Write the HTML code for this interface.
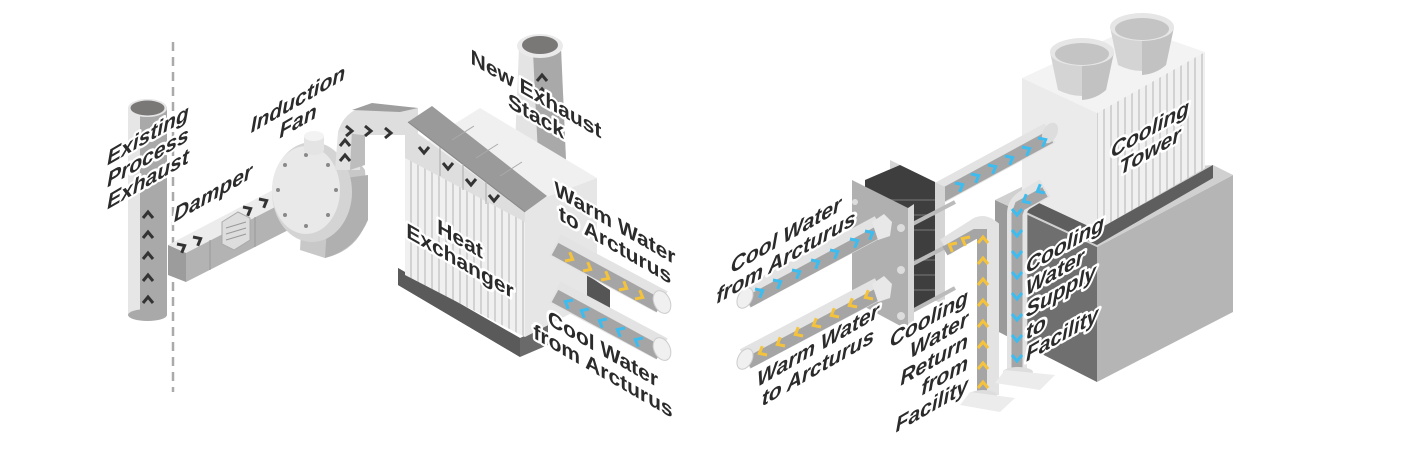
<!DOCTYPE html>
<html><head><meta charset="utf-8"><style>
html,body{margin:0;padding:0;background:#fff;}
svg{display:block}
.t{font-family:"Liberation Sans",sans-serif;font-weight:bold;font-style:italic;font-size:21px;fill:#2b2b2b;stroke:#fff;stroke-width:5px;paint-order:stroke;stroke-linejoin:round}
</style></head><body>
<svg width="1406" height="464" viewBox="0 0 1406 464" xmlns="http://www.w3.org/2000/svg">
<defs>
<pattern id="str" width="7" height="10" patternUnits="userSpaceOnUse"><rect width="7" height="10" fill="#f0f0f0"/><rect x="4" width="2" height="10" fill="#d2d2d2"/></pattern>
<g id="cd"><polyline points="-3,-5 3,0 -3,5" fill="none" stroke="#333" stroke-width="3"/></g>
<g id="cy"><polyline points="-3,-5 3,0 -3,5" fill="none" stroke="#f5c33b" stroke-width="3"/></g>
<g id="cb"><polyline points="-3,-5 3,0 -3,5" fill="none" stroke="#3dbcf0" stroke-width="3"/></g>
</defs>

<line x1="173" y1="42" x2="173" y2="392" stroke="#aaa" stroke-width="2.5" stroke-dasharray="9,6"/>

<rect x="128" y="107" width="39" height="208" fill="#e6e6e6"/>
<rect x="140" y="107" width="27" height="208" fill="#a9a9a9"/>
<ellipse cx="147.5" cy="315" rx="19.5" ry="6" fill="#a9a9a9"/>
<ellipse cx="147.5" cy="108" rx="19.5" ry="9" fill="#e6e6e6"/>
<ellipse cx="147.5" cy="108" rx="17" ry="7.5" fill="#7a7777"/>
<use href="#cd" transform="translate(148,300) rotate(-90)"/>
<use href="#cd" transform="translate(148,278) rotate(-90)"/>
<use href="#cd" transform="translate(148,256) rotate(-90)"/>
<use href="#cd" transform="translate(148,235) rotate(-90)"/>
<use href="#cd" transform="translate(148,215) rotate(-90)"/>

<polygon points="168,245 292,180 312,188 186,253" fill="#ececec"/>
<polygon points="168,245 186,253 186,282 168,275" fill="#9c9c9c"/>
<polygon points="186,253 312,188 312,218 186,282" fill="#b3b3b3"/>
<line x1="210" y1="240" x2="210" y2="270" stroke="#999"/>
<line x1="255" y1="217" x2="255" y2="247" stroke="#999"/>
<polygon points="222,222 238,212 250,218 250,240 234,250 222,244" fill="#ddd" stroke="#aaa"/>
<line x1="226" y1="228" x2="246" y2="222" stroke="#999"/><line x1="226" y1="234" x2="246" y2="228" stroke="#999"/><line x1="226" y1="240" x2="246" y2="234" stroke="#999"/>
<use href="#cd" transform="translate(182,247) rotate(-28)"/>
<use href="#cd" transform="translate(198,240) rotate(-28)"/>
<use href="#cd" transform="translate(248,210) rotate(-28)"/>
<use href="#cd" transform="translate(264,202) rotate(-28)"/>
<use href="#cd" transform="translate(284,188) rotate(-28)"/>

<path d="M305,160 L350,150 L365,170 L368,215 Q360,250 325,258 L300,250 Z" fill="#c8c8c8"/>
<path d="M330,180 L368,175 L368,220 Q355,250 325,258 Z" fill="#b0b0b0"/>
<ellipse cx="312" cy="192" rx="40" ry="50" fill="#d4d4d4"/>
<ellipse cx="306" cy="190" rx="34" ry="44" fill="#e9e9e9"/>
<g fill="#888"><circle cx="306" cy="155" r="2"/><circle cx="328" cy="165" r="2"/><circle cx="336" cy="190" r="2"/><circle cx="328" cy="215" r="2"/><circle cx="306" cy="226" r="2"/><circle cx="285" cy="215" r="2"/><circle cx="278" cy="190" r="2"/><circle cx="285" cy="165" r="2"/></g>
<rect x="304" y="136" width="20" height="14" fill="#e4e4e4"/><ellipse cx="314" cy="136" rx="10" ry="5" fill="#f3f3f3"/><ellipse cx="314" cy="150" rx="10" ry="5" fill="#e4e4e4"/>

<polygon points="335,170 360,170 362,130 338,132" fill="#e2e2e2"/>
<polygon points="350,170 365,165 365,128 352,130" fill="#bdbdbd"/>
<path d="M338,132 Q345,108 372,105 L418,108 L418,135 L362,135 Z" fill="#dedede"/>
<polygon points="352,110 372,103 418,108 400,112" fill="#9e9e9e"/>
<use href="#cd" transform="translate(345,158) rotate(-90)"/>
<use href="#cd" transform="translate(345,143) rotate(-90)"/>
<use href="#cd" transform="translate(349,131)"/>
<use href="#cd" transform="translate(368,131)"/>
<use href="#cd" transform="translate(388,133)"/>

<polygon points="519,48 561,48 566,160 515,145" fill="#e4e4e4"/>
<polygon points="533,52 561,48 566,160 538,155" fill="#a9a9a9"/>
<ellipse cx="540" cy="46" rx="23" ry="12" fill="#eaeaea"/>
<ellipse cx="540" cy="45" rx="18" ry="9" fill="#7a7777"/>
<use href="#cd" transform="translate(542,78) rotate(-90)"/>
<use href="#cd" transform="translate(542,92) rotate(-90)"/>

<polygon points="398,268 520,338 548,325 548,345 520,357 398,285" fill="#6a6a6a"/>
<polygon points="398,268 520,338 520,357 398,285" fill="#5a5a5a"/>
<polygon points="405,155 480,108 597,178 525,205" fill="#f0f0f0"/>
<polygon points="525,205 597,178 597,300 525,337" fill="#e6e6e6"/>
<polygon points="405,155 525,218 525,337 405,275" fill="url(#str)"/>
<polygon points="408,122 432,106 547,196 525,212" fill="#9a9a9a"/>
<polygon points="405,124 525,212 525,222 405,158" fill="#dedede"/>
<line x1="408" y1="122" x2="525" y2="212" stroke="#888"/>
<g stroke="#aaa"><line x1="440" y1="147" x2="440" y2="176"/><line x1="463" y1="164" x2="463" y2="190"/><line x1="486" y1="182" x2="486" y2="204"/><line x1="452" y1="140" x2="474" y2="126"/><line x1="476" y1="158" x2="498" y2="144"/><line x1="500" y1="176" x2="522" y2="162"/></g>
<use href="#cd" transform="translate(424,150) rotate(90)"/>
<use href="#cd" transform="translate(448,166) rotate(90)"/>
<use href="#cd" transform="translate(471,182) rotate(90)"/>
<use href="#cd" transform="translate(494,198) rotate(90)"/>
<polygon points="587,275 610,290 610,310 587,300" fill="#555"/>

<line x1="555" y1="245" x2="662" y2="302" stroke="#e3e3e3" stroke-width="24"/>
<line x1="555" y1="249" x2="660" y2="306" stroke="#a5a5a5" stroke-width="14"/>
<ellipse cx="662" cy="302" rx="8" ry="12" transform="rotate(-25 662 302)" fill="#f0f0f0" stroke="#ccc"/>
<line x1="555" y1="292" x2="662" y2="349" stroke="#e3e3e3" stroke-width="24"/>
<line x1="555" y1="296" x2="660" y2="353" stroke="#a5a5a5" stroke-width="14"/>
<ellipse cx="662" cy="349" rx="8" ry="12" transform="rotate(-25 662 349)" fill="#f0f0f0" stroke="#ccc"/>
<use href="#cy" transform="translate(570,258) rotate(28)"/><use href="#cy" transform="translate(588,268) rotate(28)"/><use href="#cy" transform="translate(606,277) rotate(28)"/><use href="#cy" transform="translate(624,287) rotate(28)"/><use href="#cy" transform="translate(640,296) rotate(28)"/>
<use href="#cb" transform="translate(568,303) rotate(208)"/><use href="#cb" transform="translate(584,312) rotate(208)"/><use href="#cb" transform="translate(602,322) rotate(208)"/><use href="#cb" transform="translate(620,331) rotate(208)"/><use href="#cb" transform="translate(638,341) rotate(208)"/>

<!-- right side -->
<polygon points="995,200 1028,215 1028,347 995,330" fill="#9a9a9a"/>
<polygon points="1028,215 1097,247 1097,382 1028,347" fill="#6f6f6f"/>
<polygon points="1097,247 1233,175 1233,312 1097,382" fill="#b5b5b5"/>
<polygon points="995,200 1040,178 1213,165 1233,175 1097,247 1028,215" fill="#d0d0d0"/>
<polygon points="1022,195 1097,230 1213,165 1213,178 1097,245 1022,210" fill="#5e5e5e"/>
<polygon points="1022,78 1133,27 1205,52 1097,113" fill="#f3f3f3"/>
<polygon points="1022,78 1097,113 1097,230 1022,195" fill="#ebebeb"/>
<polygon points="1097,113 1205,52 1205,168 1097,230" fill="url(#str)"/>
<path d="M1050,52 L1058,90 Q1082,102 1106,90 L1114,52 Z" fill="#d4d4d4"/>
<path d="M1082,52 L1082,100 Q1096,99 1106,90 L1114,52 Z" fill="#c2c2c2"/>
<ellipse cx="1082" cy="52" rx="32" ry="14" fill="#e6e6e6"/><ellipse cx="1082" cy="54" rx="27" ry="11" fill="#c4c4c4"/>
<path d="M1110,27 L1118,65 Q1142,77 1166,65 L1174,27 Z" fill="#d4d4d4"/>
<path d="M1142,27 L1142,75 Q1156,74 1166,65 L1174,27 Z" fill="#c2c2c2"/>
<ellipse cx="1142" cy="27" rx="32" ry="14" fill="#e6e6e6"/><ellipse cx="1142" cy="29" rx="27" ry="11" fill="#c4c4c4"/>

<line x1="930" y1="198" x2="1050" y2="133" stroke="#e3e3e3" stroke-width="22"/>
<line x1="930" y1="202" x2="1050" y2="137" stroke="#a5a5a5" stroke-width="13"/>
<ellipse cx="1050" cy="133" rx="7" ry="11" transform="rotate(28 1050 133)" fill="#ddd"/>
<use href="#cb" transform="translate(960,186) rotate(-28)"/><use href="#cb" transform="translate(976,177) rotate(-28)"/><use href="#cb" transform="translate(993,168) rotate(-28)"/><use href="#cb" transform="translate(1010,159) rotate(-28)"/><use href="#cb" transform="translate(1027,150) rotate(-28)"/><use href="#cb" transform="translate(1043,141) rotate(-28)"/>

<polygon points="890,160 945,187 945,305 890,280" fill="#d5d5d5"/>
<polygon points="865,180 900,165 935,182 935,300 900,320 865,300" fill="#3e3e3e"/>
<g stroke="#666" stroke-width="1.5"><line x1="870" y1="200" x2="935" y2="200"/><line x1="870" y1="215" x2="935" y2="215"/><line x1="870" y1="230" x2="935" y2="230"/><line x1="870" y1="260" x2="935" y2="260"/><line x1="870" y1="275" x2="935" y2="275"/><line x1="870" y1="290" x2="935" y2="290"/></g>
<g stroke="#bbb" stroke-width="4"><line x1="905" y1="228" x2="955" y2="202"/><line x1="905" y1="268" x2="955" y2="242"/><line x1="905" y1="315" x2="955" y2="288"/></g>
<polygon points="852,180 908,208 908,330 852,300" fill="#b0b0b0"/>
<polygon points="908,208 914,204 914,326 908,330" fill="#d8d8d8"/>
<g fill="#ddd"><circle cx="855" cy="202" r="3"/><circle cx="901" cy="228" r="4"/><circle cx="901" cy="270" r="4"/><circle cx="901" cy="316" r="4"/></g>

<path d="M945,247 L975,228 Q982,222 990,228 L990,395" fill="none" stroke="#e3e3e3" stroke-width="18"/>
<path d="M945,251 L975,234 L982,234 L982,395" fill="none" stroke="#a5a5a5" stroke-width="10"/>
<ellipse cx="983" cy="395" rx="14" ry="5" fill="#ddd"/>
<polygon points="970,392 1015,398 1000,412 960,405" fill="#ececec"/>
<use href="#cy" transform="translate(965,240) rotate(208)"/><use href="#cy" transform="translate(952,246) rotate(208)"/>
<g><use href="#cy" transform="translate(983,240) rotate(-90)"/><use href="#cy" transform="translate(983,261) rotate(-90)"/><use href="#cy" transform="translate(983,282) rotate(-90)"/><use href="#cy" transform="translate(983,303) rotate(-90)"/><use href="#cy" transform="translate(983,324) rotate(-90)"/><use href="#cy" transform="translate(983,345) rotate(-90)"/><use href="#cy" transform="translate(983,366) rotate(-90)"/><use href="#cy" transform="translate(983,385) rotate(-90)"/></g>

<path d="M1045,188 L1025,200 Q1017,205 1017,214 L1017,372" fill="none" stroke="#e3e3e3" stroke-width="20"/>
<path d="M1045,192 L1020,206 L1017,214 L1017,372" fill="none" stroke="#a5a5a5" stroke-width="11"/>
<ellipse cx="1018" cy="372" rx="15" ry="5" fill="#ddd"/>
<polygon points="1005,370 1055,375 1040,390 995,383" fill="#ececec"/>
<use href="#cb" transform="translate(1040,190) rotate(152)"/><use href="#cb" transform="translate(1026,200) rotate(152)"/>
<g><use href="#cb" transform="translate(1017,212) rotate(90)"/><use href="#cb" transform="translate(1017,233) rotate(90)"/><use href="#cb" transform="translate(1017,254) rotate(90)"/><use href="#cb" transform="translate(1017,275) rotate(90)"/><use href="#cb" transform="translate(1017,296) rotate(90)"/><use href="#cb" transform="translate(1017,317) rotate(90)"/><use href="#cb" transform="translate(1017,338) rotate(90)"/><use href="#cb" transform="translate(1017,358) rotate(90)"/></g>

<line x1="745" y1="298" x2="880" y2="226" stroke="#e3e3e3" stroke-width="22"/>
<line x1="748" y1="302" x2="880" y2="231" stroke="#a5a5a5" stroke-width="12"/>
<ellipse cx="745" cy="298" rx="7" ry="11" transform="rotate(28 745 298)" fill="#f0f0f0" stroke="#ccc"/>
<polygon points="872,222 884,214 892,222 890,236 878,240" fill="#e8e8e8"/>
<line x1="745" y1="359" x2="880" y2="288" stroke="#e3e3e3" stroke-width="22"/>
<line x1="748" y1="363" x2="880" y2="293" stroke="#a5a5a5" stroke-width="12"/>
<ellipse cx="745" cy="359" rx="7" ry="11" transform="rotate(28 745 359)" fill="#f0f0f0" stroke="#ccc"/>
<polygon points="872,284 884,276 892,284 890,298 878,302" fill="#e8e8e8"/>
<use href="#cb" transform="translate(760,292) rotate(-28)"/><use href="#cb" transform="translate(778,283) rotate(-28)"/><use href="#cb" transform="translate(797,273) rotate(-28)"/><use href="#cb" transform="translate(816,263) rotate(-28)"/><use href="#cb" transform="translate(835,253) rotate(-28)"/><use href="#cb" transform="translate(855,242) rotate(-28)"/><use href="#cb" transform="translate(870,234) rotate(-28)"/>
<use href="#cy" transform="translate(762,352) rotate(152)"/><use href="#cy" transform="translate(780,343) rotate(152)"/><use href="#cy" transform="translate(798,333) rotate(152)"/><use href="#cy" transform="translate(816,324) rotate(152)"/><use href="#cy" transform="translate(834,314) rotate(152)"/><use href="#cy" transform="translate(852,304) rotate(152)"/><use href="#cy" transform="translate(868,296) rotate(152)"/>

<g class="t" text-anchor="middle">
<text transform="translate(148,162) skewY(-30)"><tspan x="0" y="-20">Existing</tspan><tspan x="0" y="2">Process</tspan><tspan x="0" y="24">Exhaust</tspan></text>
<text transform="translate(213,200) skewY(-30)">Damper</text>
<text transform="translate(298,110) skewY(-30)"><tspan x="0" y="-4">Induction</tspan><tspan x="0" y="18">Fan</tspan></text>
<text transform="translate(536,105) skewY(30)" style="font-style:normal"><tspan x="0" y="-4">New Exhaust</tspan><tspan x="0" y="18">Stack</tspan></text>
<text transform="translate(460,250) skewY(30)" style="font-style:normal"><tspan x="0" y="-4">Heat</tspan><tspan x="0" y="18">Exchanger</tspan></text>
<text transform="translate(615,234) skewY(30)" style="font-style:normal"><tspan x="0" y="-4">Warm Water</tspan><tspan x="0" y="18">to Arcturus</tspan></text>
<text transform="translate(603,360) skewY(30)" style="font-style:normal"><tspan x="0" y="-4">Cool Water</tspan><tspan x="0" y="18">from Arcturus</tspan></text>
<text transform="translate(786,246) skewY(-30)"><tspan x="0" y="-4">Cool Water</tspan><tspan x="0" y="18">from Arcturus</tspan></text>
<text transform="translate(818,356) skewY(-30)"><tspan x="0" y="-4">Warm Water</tspan><tspan x="0" y="18">to Arcturus</tspan></text>
<text transform="translate(1150,140) skewY(-30)"><tspan x="0" y="-4">Cooling</tspan><tspan x="0" y="18">Tower</tspan></text>
</g>
<text class="t" text-anchor="end" transform="translate(968,347) skewY(-30)"><tspan x="0" y="-44">Cooling</tspan><tspan x="0" y="-22">Water</tspan><tspan x="0" y="0">Return</tspan><tspan x="0" y="22">from</tspan><tspan x="0" y="44">Facility</tspan></text>
<text class="t" text-anchor="start" transform="translate(1026,318) skewY(-30)"><tspan x="0" y="-44">Cooling</tspan><tspan x="0" y="-22">Water</tspan><tspan x="0" y="0">Supply</tspan><tspan x="0" y="22">to</tspan><tspan x="0" y="44">Facility</tspan></text>
</svg>
</body></html>
